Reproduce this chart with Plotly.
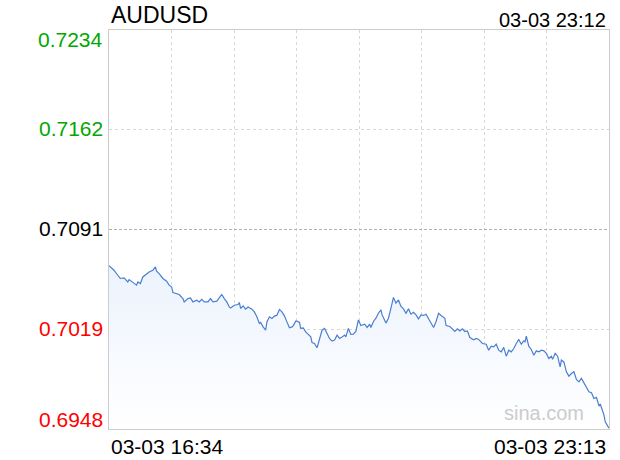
import plotly.graph_objects as go

# minutes after 03-03 16:34
minutes = [0, 4, 7, 9, 12, 15, 16, 19, 22, 23, 25, 27, 30, 32, 35, 37, 38, 40, 43, 46,
           48, 50, 51, 54, 56, 59, 60, 63, 65, 67, 70, 72, 74, 76, 79, 81, 83, 86, 88, 90,
           92, 94, 96, 97, 100, 103, 104, 105, 107, 109, 111, 114, 116, 118, 120, 121, 123, 125, 126, 128,
           130, 132, 134, 136, 138, 140, 142, 144, 146, 147, 149, 150, 152, 153, 155, 157, 159, 161, 162, 164,
           166, 168, 170, 172, 174, 176, 178, 180, 182, 184, 186, 188, 189, 191, 193, 195, 197, 199, 201, 204,
           206, 208, 209, 211, 213, 215, 217, 218, 221, 223, 225, 227, 229, 231, 233, 235, 237, 239, 241, 243,
           245, 247, 249, 251, 253, 255, 257, 259, 261, 263, 265, 268, 269, 272, 274, 276, 278, 280, 282, 284,
           286, 288, 291, 293, 295, 298, 301, 303, 305, 307, 309, 311, 313, 315, 317, 319, 321, 323, 325, 327,
           329, 331, 332, 333, 335, 337, 339, 341, 343, 345, 347, 349, 351, 353, 354, 356, 358, 360, 361, 363,
           365, 367, 369, 371, 373, 375, 377, 379, 381, 383, 385, 387, 389, 391, 392, 394, 395, 396, 398, 399]

prices = [0.70650, 0.70618, 0.70582, 0.70559, 0.70563, 0.70534, 0.70551, 0.70534, 0.70511, 0.70534,
          0.70523, 0.70570, 0.70594, 0.70606, 0.70618, 0.70642, 0.70611, 0.70594, 0.70559, 0.70539,
          0.70511, 0.70498, 0.70458, 0.70451, 0.70444, 0.70415, 0.70391, 0.70415, 0.70420, 0.70391,
          0.70403, 0.70391, 0.70410, 0.70391, 0.70391, 0.70415, 0.70391, 0.70396, 0.70420, 0.70444,
          0.70415, 0.70391, 0.70355, 0.70348, 0.70367, 0.70372, 0.70387, 0.70344, 0.70362, 0.70339,
          0.70355, 0.70339, 0.70319, 0.70284, 0.70236, 0.70244, 0.70212, 0.70188, 0.70248, 0.70284,
          0.70272, 0.70289, 0.70296, 0.70337, 0.70319, 0.70291, 0.70248, 0.70205, 0.70212, 0.70219,
          0.70253, 0.70253, 0.70244, 0.70201, 0.70205, 0.70176, 0.70158, 0.70140, 0.70100, 0.70093,
          0.70062, 0.70129, 0.70188, 0.70201, 0.70165, 0.70129, 0.70110, 0.70117, 0.70153, 0.70129,
          0.70140, 0.70153, 0.70140, 0.70201, 0.70158, 0.70160, 0.70179, 0.70262, 0.70222, 0.70231,
          0.70208, 0.70231, 0.70208, 0.70251, 0.70274, 0.70310, 0.70334, 0.70298, 0.70239, 0.70274,
          0.70346, 0.70423, 0.70382, 0.70405, 0.70358, 0.70341, 0.70310, 0.70341, 0.70303, 0.70317,
          0.70298, 0.70269, 0.70298, 0.70294, 0.70303, 0.70269, 0.70231, 0.70208, 0.70251, 0.70310,
          0.70294, 0.70274, 0.70222, 0.70215, 0.70198, 0.70179, 0.70198, 0.70183, 0.70198, 0.70179,
          0.70183, 0.70136, 0.70119, 0.70129, 0.70122, 0.70093, 0.70088, 0.70045, 0.70074, 0.70069,
          0.70088, 0.70045, 0.70033, 0.70065, 0.70002, 0.70045, 0.70033, 0.70057, 0.70093, 0.70122,
          0.70088, 0.70112, 0.70105, 0.70145, 0.70074, 0.70050, 0.70009, 0.70040, 0.70033, 0.70045,
          0.70040, 0.70022, 0.69986, 0.70002, 0.69979, 0.70022, 0.70002, 0.69926, 0.69974, 0.69961,
          0.69890, 0.69859, 0.69878, 0.69890, 0.69835, 0.69818, 0.69843, 0.69807, 0.69771, 0.69747,
          0.69740, 0.69699, 0.69707, 0.69644, 0.69659, 0.69603, 0.69580, 0.69532, 0.69501, 0.69485]

prev_close = 0.7091
y_min, y_max = 0.6948, 0.7234
y_tick_vals = [0.7234, 0.71625, 0.7091, 0.70195, 0.6948]
y_tick_text = ["0.7234", "0.7162", "0.7091", "0.7019", "0.6948"]
y_tick_colors = ["#00a800", "#00a800", "#000000", "#ff0000", "#ff0000"]
x_total = 399
x_grid = [x_total * i / 8 for i in range(1, 8)]
title_text = "AUDUSD"
time_now = "03-03 23:12"
x_start_label = "03-03 16:34"
x_end_label = "03-03 23:13"

FONT = "Arial, Liberation Sans, Helvetica, sans-serif"

fig = go.Figure()
fig.add_trace(go.Scatter(x=minutes, y=[y_min] * len(minutes), mode="lines",
                         line=dict(width=0), hoverinfo="skip", showlegend=False))
fig.add_trace(go.Scatter(
    x=minutes, y=prices, mode="lines", fill="tonexty",
    line=dict(color="#4a7ed2", width=1.2),
    fillgradient=dict(type="vertical",
                      colorscale=[[0, "rgba(255,255,255,1)"], [1, "rgba(236,243,253,1)"]]),
    showlegend=False))

fig.add_shape(type="line", xref="paper", x0=0, x1=1, yref="y", y0=prev_close, y1=prev_close,
              line=dict(color="#b0b0b0", width=1, dash="3px,2px"))

annotations = []
for v, t, c in zip(y_tick_vals, y_tick_text, y_tick_colors):
    if v == y_max:
        ya, sh = "top", 4
    elif v == y_min:
        ya, sh = "bottom", -4
    else:
        ya, sh = "middle", 1
    annotations.append(dict(x=-0.009, xref="paper", y=v, yref="y", text=t, showarrow=False,
                            xanchor="right", yanchor=ya, yshift=sh,
                            font=dict(size=21, color=c, family=FONT)))
annotations += [
    dict(x=0.0, xref="paper", y=1.0, yref="paper", text=title_text, showarrow=False,
         xanchor="left", yanchor="bottom", yshift=0, font=dict(size=23, color="#000", family=FONT)),
    dict(x=0.997, xref="paper", y=1.0, yref="paper", text=time_now, showarrow=False,
         xanchor="right", yanchor="bottom", yshift=-3, font=dict(size=20, color="#000", family=FONT)),
    dict(x=0.0, xref="paper", y=0.0, yref="paper", text=x_start_label, showarrow=False,
         xanchor="left", yanchor="top", yshift=-4, font=dict(size=21, color="#000", family=FONT)),
    dict(x=0.997, xref="paper", y=0.0, yref="paper", text=x_end_label, showarrow=False,
         xanchor="right", yanchor="top", yshift=-4, font=dict(size=21, color="#000", family=FONT)),
    dict(x=0.953, xref="paper", y=0.04, yref="paper", text="sina.com", showarrow=False,
         xanchor="right", yanchor="middle", font=dict(size=20, color="#cccccc", family=FONT)),
]

fig.update_layout(
    width=620, height=460,
    margin=dict(l=109, r=11, t=30, b=31),
    paper_bgcolor="white", plot_bgcolor="white",
    annotations=annotations,
    xaxis=dict(range=[0, x_total], tickvals=x_grid, showticklabels=False, ticks="",
               showgrid=True, gridcolor="#d8d8d8", griddash="dot", gridwidth=1,
               showline=True, linecolor="#cccccc", linewidth=1, mirror=True, zeroline=False,
               fixedrange=True),
    yaxis=dict(range=[y_min, y_max], tickvals=[y_tick_vals[1], y_tick_vals[3]],
               showticklabels=False, ticks="",
               showgrid=True, gridcolor="#d8d8d8", griddash="dot", gridwidth=1,
               showline=True, linecolor="#cccccc", linewidth=1, mirror=True, zeroline=False,
               fixedrange=True),
)

fig.write_html("out.html", config={"displayModeBar": False},
               post_script="document.body.style.margin='0px';document.body.style.overflow='hidden';")
